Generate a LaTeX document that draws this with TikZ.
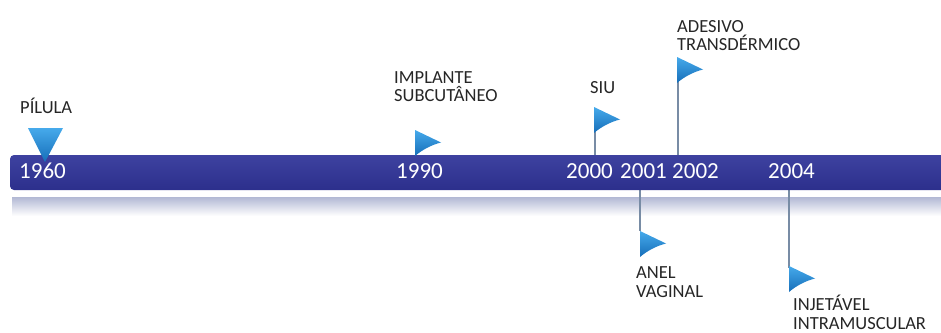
\documentclass[tikz,border=0pt]{standalone}
\usepackage{fontspec}
\setmainfont{Carlito}
\definecolor{barblue}{RGB}{44,47,140}
\definecolor{barlight}{RGB}{62,66,160}
\definecolor{flaglight}{RGB}{70,170,235}
\definecolor{flagdark}{RGB}{22,110,185}
\definecolor{polecol}{RGB}{120,140,165}
\definecolor{reflcol}{RGB}{178,184,212}
\tikzset{
  yearlbl/.style={anchor=base west, inner sep=0pt, text=white, font=\fontsize{23}{23}\selectfont},
  eventlbl/.style={anchor=base west, inner sep=0pt, text=black!85, font=\fontsize{18.5}{18}\selectfont},
  pole/.style={draw=polecol, line width=2.2pt},
  flagfill/.style={top color=flaglight, bottom color=flagdark, draw=none},
  tlflag/.pic={
    \path[flagfill] (0,0) -- (26,12.5) .. controls (16,15) and (7,20) .. (0,26) -- cycle;
  }
}
\begin{document}
\begin{tikzpicture}[x=1pt,y=-1pt]
\useasboundingbox (0,0) rectangle (941,332);
% reflection
\shade[top color=reflcol, bottom color=white] (12,197) rectangle (945,216);
% poles below the bar
\coordinate (p01top) at (640,190);
\coordinate (p01bot) at (640,231);
\coordinate (p04top) at (789,190);
\coordinate (p04bot) at (789,268);
\draw[pole] (p01top) -- (p01bot);
\draw[pole] (p04top) -- (p04bot);
% poles above the bar
\coordinate (p00top) at (595,120);
\coordinate (p00bot) at (595,156);
\coordinate (p02top) at (678,70);
\coordinate (p02bot) at (678,156);
\draw[pole] (p00top) -- (p00bot);
\draw[pole] (p02top) -- (p02bot);
% bar
\shade[top color=barlight, bottom color=barblue, rounded corners=4pt] (10,155) rectangle (960,190);
% flags
\pic at (594,107) {tlflag};
\pic at (677,57) {tlflag};
\pic at (640,231) {tlflag};
\pic at (789,266) {tlflag};
\pic at (415,130) {tlflag};
% pill marker
\path[flagfill] (28,128) -- (63,128) -- (45,162) -- cycle;
% years
\node[yearlbl] (y1960) at (19,178) {1960};
\node[yearlbl] (y1990) at (396,178) {1990};
\node[yearlbl] (y2000) at (566,178) {2000};
\node[yearlbl] (y2001) at (620,178) {2001};
\node[yearlbl] (y2002) at (672,178) {2002};
\node[yearlbl] (y2004) at (768,178) {2004};
% event labels
\node[eventlbl] (pil) at (20,113) {PÍLULA};
\node[eventlbl] (impA) at (394,83) {IMPLANTE};
\node[eventlbl] (impB) at (394,101) {SUBCUTÂNEO};
\node[eventlbl] (siu) at (590,93) {SIU};
\node[eventlbl] (adeA) at (677,32) {ADESIVO};
\node[eventlbl] (adeB) at (677,50) {TRANSDÉRMICO};
\node[eventlbl] (anelA) at (636,278) {ANEL};
\node[eventlbl] (anelB) at (636,297) {VAGINAL};
\node[eventlbl] (injA) at (793,310) {INJETÁVEL};
\node[eventlbl] (injB) at (793,329) {INTRAMUSCULAR};
\end{tikzpicture}
\end{document}
